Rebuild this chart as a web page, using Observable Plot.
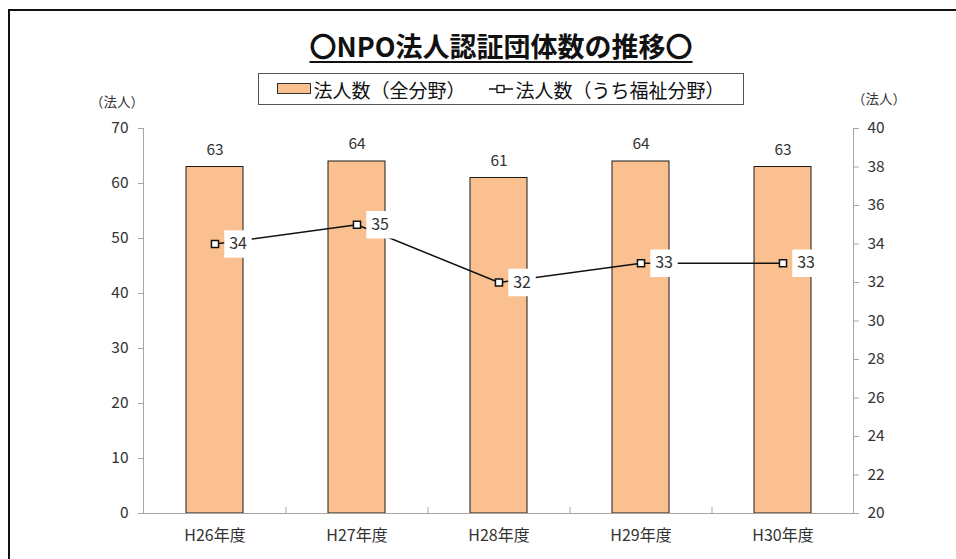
<!DOCTYPE html>
<html><head><meta charset="utf-8">
<script src="https://cdn.jsdelivr.net/npm/d3@7"></script>
<script src="https://cdn.jsdelivr.net/npm/@observablehq/plot@0.6"></script>
<style>
body{margin:0;background:#fff;font-family:"Noto Sans CJK JP","Noto Sans",sans-serif;}
#wrap{position:relative;width:956px;height:559px;overflow:hidden;background:#fff;}
#frame{position:absolute;left:8px;top:9px;width:980px;height:580px;border-left:2px solid #111;border-top:2px solid #111;}
#title{position:absolute;left:0;width:1002px;top:29px;text-align:center;font-size:27px;font-weight:bold;text-decoration:underline;text-decoration-thickness:2px;text-underline-offset:4px;color:#111;line-height:34px;}
#legend{position:absolute;left:258px;top:73px;width:484px;height:30px;border:1px solid #555;display:flex;align-items:center;justify-content:center;font-size:19px;color:#111;gap:22px;}
#legend span.item{display:flex;align-items:center;}
.unit{position:absolute;font-size:13.5px;color:#333;}
#chart{position:absolute;left:0;top:110px;}
</style></head>
<body><div id="wrap">
<div id="frame"></div>
<div id="title"></div>
<div id="legend"></div>
<div class="unit" id="unitL" style="left:90px;top:91px;"></div>
<div class="unit" id="unitR" style="left:852px;top:88px;"></div>
<div id="chart"></div>
</div>
<script>
const categories = ["H26年度","H27年度","H28年度","H29年度","H30年度"];
const allFields = [63, 64, 61, 64, 63];
const welfareFields = [34, 35, 32, 33, 33];
const leftTicks = [0,10,20,30,40,50,60,70];
const rightTicks = [20,22,24,26,28,30,32,34,36,38,40];
const titleText = "〇NPO法人認証団体数の推移〇";
const seriesNames = ["法人数（全分野）", "法人数（うち福祉分野）"];
const unitText = "（法人）";

document.getElementById("title").textContent = titleText;
document.getElementById("unitL").textContent = unitText;
document.getElementById("unitR").textContent = unitText;
document.getElementById("legend").innerHTML =
  `<span class="item"><svg width="34" height="12" style="margin-right:2px"><rect x="0.5" y="0.5" width="33" height="10" fill="#FAC090" stroke="#333"/></svg>${seriesNames[0]}</span>` +
  `<span class="item"><svg width="26" height="12" style="margin-right:2px"><line x1="1" x2="25" y1="6" y2="6" stroke="#111" stroke-width="1.5"/><rect x="9" y="2.5" width="7" height="7" fill="#fff" stroke="#111" stroke-width="1.3"/></svg>${seriesNames[1]}</span>`;

const rows = categories.map((c,i)=>({cat:c, all:allFields[i], welfare:welfareFields[i]}));
const L0 = 0, L1 = 70, R0 = 20, R1 = 40;
const toLeft = v => L0 + (v - R0) * (L1 - L0) / (R1 - R0);
const fromLeft = v => R0 + (v - L0) * (R1 - R0) / (L1 - L0);

const W = 956, H = 449, mL = 143, mR = 103, mT = 18, mB = 46;
const step = (W - mL - mR) / categories.length;
const axisColor = "#a6a6a6";
const textColor = "#333";

const chart = Plot.plot({
  width: W, height: H,
  marginLeft: mL, marginRight: mR, marginTop: mT, marginBottom: mB,
  style: {fontFamily: '"Noto Sans CJK JP","Noto Sans",sans-serif', fontSize: "15px", color: textColor, background: "transparent"},
  x: {domain: categories, paddingInner: 0.6, paddingOuter: 0.3},
  y: {domain: [L0, L1]},
  marks: [
    Plot.barY(rows, {x: "cat", y: "all", fill: "#FAC090", stroke: "#1a1a1a", strokeWidth: 1}),
    Plot.frame({anchor: "left", stroke: axisColor}),
    Plot.frame({anchor: "right", stroke: axisColor}),
    Plot.frame({anchor: "bottom", stroke: axisColor}),
    Plot.ruleX(categories.slice(1), {x: d => d, y1: 0, y2: 1.1, dx: -step/2, stroke: axisColor}),
    Plot.axisY({ticks: leftTicks, anchor: "left", tickSize: 5, tickPadding: 10, stroke: axisColor, fill: textColor, fontSize: 15.5, label: null}),
    Plot.axisY({ticks: rightTicks.map(toLeft), anchor: "right", tickSize: 5, tickPadding: 9, tickFormat: d => Math.round(fromLeft(d)), stroke: axisColor, fill: textColor, fontSize: 15.5, label: null}),
    Plot.axisX({tickSize: 0, tickPadding: 16, fill: textColor, fontSize: 16, label: null}),
    Plot.text(rows, {x: "cat", y: "all", text: "all", dy: -17, fill: textColor, fontSize: 15.5}),
    Plot.line(rows, {x: "cat", y: d => toLeft(d.welfare), stroke: "#111", strokeWidth: 1.5}),
    Plot.dot(rows, {x: "cat", y: d => toLeft(d.welfare), symbol: "square", r: 15.5, fill: "white", dx: 23}),
    Plot.dot(rows, {x: "cat", y: d => toLeft(d.welfare), symbol: "square", r: 4, fill: "white", stroke: "#111", strokeWidth: 1.5}),
    Plot.text(rows, {x: "cat", y: d => toLeft(d.welfare), text: "welfare", dx: 23, fill: textColor, fontSize: 16})
  ]
});
document.getElementById("chart").appendChild(chart);
</script>
</body></html>
